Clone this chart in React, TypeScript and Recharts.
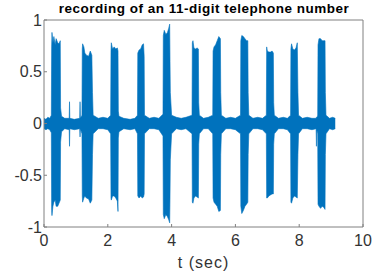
import React from "react";
import { AreaChart, Area, XAxis, YAxis } from "recharts";

// envelope of the recording (seconds, upper, lower)
const time = [
  0, 0.06, 0.12, 0.18, 0.23,
  0.24, 0.25, 0.28, 0.31, 0.35, 0.38, 0.43, 0.47, 0.51, 0.52, 0.55,
  0.65, 0.79, 0.8, 0.81, 0.95, 1.12, 1.13, 1.14, 1.19,
  1.2, 1.21, 1.25, 1.28, 1.33, 1.4, 1.45, 1.5, 1.52, 1.54,
  1.7, 1.85, 2.0, 2.09,
  2.1, 2.11, 2.15, 2.2, 2.25, 2.3, 2.32, 2.33, 2.35,
  2.5, 2.7, 2.85, 2.93,
  2.94, 2.98, 3.03, 3.08, 3.12, 3.14, 3.15,
  3.3, 3.45, 3.6, 3.73,
  3.74, 3.77, 3.82, 3.87, 3.91, 3.94, 3.95, 3.96, 4.0,
  4.15, 4.3, 4.45, 4.64,
  4.65, 4.67, 4.7, 4.75, 4.8, 4.84, 4.85, 4.87,
  5.0, 5.15, 5.29,
  5.3, 5.33, 5.38, 5.43, 5.48, 5.53, 5.54, 5.56,
  5.7, 5.85, 6.0, 6.16,
  6.17, 6.2, 6.25, 6.3, 6.35, 6.39, 6.4, 6.42,
  6.55, 6.7, 6.85, 6.97,
  6.98, 7.0, 7.05, 7.1, 7.15, 7.19, 7.2, 7.22,
  7.35, 7.5, 7.63, 7.73,
  7.74, 7.76, 7.8, 7.85, 7.9, 7.94, 7.96, 7.98,
  8.1, 8.25, 8.4, 8.53, 8.54, 8.55, 8.58,
  8.59, 8.62, 8.67, 8.72, 8.77, 8.81, 8.82, 8.84,
  8.95, 9.05, 9.13,
];

const upper = [
  0.05, 0.04, 0.06, 0.05, 0.08,
  0.74, 0.88, 0.78, 0.84, 0.76, 0.82, 0.78, 0.77, 0.8, 0.15, 0.07,
  0.05, 0.05, 0.21, 0.05, 0.04, 0.05, 0.21, 0.05, 0.08,
  0.72, 0.77, 0.74, 0.68, 0.66, 0.65, 0.7, 0.66, 0.3, 0.08,
  0.05, 0.06, 0.05, 0.08,
  0.7, 0.78, 0.72, 0.74, 0.72, 0.73, 0.7, 0.12, 0.07,
  0.05, 0.04, 0.05, 0.08,
  0.68, 0.71, 0.72, 0.76, 0.77, 0.65, 0.08,
  0.05, 0.06, 0.05, 0.09,
  0.85, 0.9, 0.86, 0.88, 0.92, 0.96, 0.6, 0.3, 0.08,
  0.06, 0.05, 0.06, 0.08,
  0.78, 0.8, 0.73, 0.72, 0.73, 0.72, 0.2, 0.08,
  0.05, 0.06, 0.08,
  0.7, 0.74, 0.76, 0.8, 0.84, 0.82, 0.3, 0.08,
  0.05, 0.06, 0.05, 0.08,
  0.8, 0.85, 0.84, 0.82, 0.8, 0.8, 0.3, 0.08,
  0.05, 0.06, 0.05, 0.08,
  0.74, 0.7, 0.69, 0.69, 0.7, 0.68, 0.2, 0.08,
  0.05, 0.06, 0.05, 0.08,
  0.72, 0.77, 0.72, 0.71, 0.73, 0.78, 0.3, 0.08,
  0.05, 0.06, 0.05, 0.05, 0.06, 0.05, 0.08,
  0.76, 0.82, 0.82, 0.8, 0.8, 0.8, 0.3, 0.08,
  0.05, 0.06, 0.05,
];

const lower = [
  -0.05, -0.06, -0.05, -0.06, -0.09,
  -0.84, -0.89, -0.8, -0.76, -0.74, -0.8, -0.8, -0.77, -0.74, -0.18, -0.08,
  -0.05, -0.06, -0.22, -0.05, -0.06, -0.05, -0.13, -0.05, -0.1,
  -0.7, -0.76, -0.72, -0.7, -0.72, -0.73, -0.77, -0.74, -0.3, -0.1,
  -0.05, -0.05, -0.06, -0.1,
  -0.72, -0.74, -0.7, -0.7, -0.72, -0.75, -0.85, -0.14, -0.08,
  -0.05, -0.06, -0.05, -0.1,
  -0.7, -0.72, -0.7, -0.72, -0.71, -0.68, -0.1,
  -0.05, -0.05, -0.06, -0.12,
  -0.88, -0.92, -0.88, -0.9, -0.93, -0.96, -0.7, -0.35, -0.1,
  -0.05, -0.06, -0.05, -0.1,
  -0.76, -0.77, -0.72, -0.7, -0.71, -0.72, -0.2, -0.1,
  -0.05, -0.05, -0.1,
  -0.72, -0.76, -0.78, -0.8, -0.85, -0.84, -0.3, -0.1,
  -0.05, -0.05, -0.06, -0.1,
  -0.8, -0.87, -0.84, -0.8, -0.78, -0.76, -0.3, -0.1,
  -0.05, -0.05, -0.06, -0.1,
  -0.72, -0.72, -0.7, -0.69, -0.68, -0.68, -0.2, -0.1,
  -0.05, -0.05, -0.06, -0.1,
  -0.76, -0.77, -0.72, -0.7, -0.71, -0.72, -0.3, -0.1,
  -0.05, -0.05, -0.06, -0.05, -0.22, -0.06, -0.1,
  -0.78, -0.8, -0.82, -0.8, -0.81, -0.83, -0.3, -0.1,
  -0.05, -0.06, -0.05,
];

const xTicks = [0, 2, 4, 6, 8, 10];
const yTicks = [-1, -0.5, 0, 0.5, 1];

const data = time.map((t, i) => ({ t, range: [lower[i], upper[i]] }));

const FONT = "'Liberation Sans', Arial, Helvetica, sans-serif";
const AXIS = "#808080";
const tickStyle = { fill: "#333333", fontSize: 16, fontFamily: FONT };

export default function App() {
  return (
    <div style={{ position: "absolute", left: 0, top: 0, width: 384, height: 271, background: "#fff" }}>
      <div
        style={{
          position: "absolute",
          left: 44,
          width: 320,
          top: 1,
          textAlign: "center",
          fontFamily: FONT,
          fontWeight: "bold",
          fontSize: 13.5,
          letterSpacing: 0.5,
          lineHeight: "15px",
          color: "#000",
          whiteSpace: "nowrap",
        }}
      >
        recording of an 11-digit telephone number
      </div>
      <AreaChart
        width={384}
        height={271}
        data={data}
        margin={{ top: 19, right: 20, bottom: 0, left: 0 }}
      >
        <XAxis
          dataKey="t"
          type="number"
          domain={[0, 10]}
          ticks={xTicks}
          height={44}
          stroke={AXIS}
          tickSize={-3}
          tickMargin={11}
          tick={tickStyle}
          interval={0}
          label={{
            value: "t (sec)",
            position: "insideBottom",
            offset: 3,
            style: { fill: "#333333", fontSize: 16, fontFamily: FONT, letterSpacing: 1 },
          }}
        />
        <XAxis
          xAxisId="top"
          orientation="top"
          dataKey="t"
          type="number"
          domain={[0, 10]}
          ticks={xTicks}
          height={1}
          stroke={AXIS}
          tickSize={-3}
          tick={false}
        />
        <YAxis
          type="number"
          domain={[-1, 1]}
          ticks={yTicks}
          width={44}
          stroke={AXIS}
          tickSize={-3}
          tickMargin={5}
          tick={tickStyle}
          interval={0}
        />
        <YAxis
          yAxisId="right"
          orientation="right"
          type="number"
          domain={[-1, 1]}
          ticks={yTicks}
          width={1}
          stroke={AXIS}
          tickSize={-3}
          tick={false}
        />
        <Area
          dataKey="range"
          type="linear"
          stroke="#0072BD"
          strokeWidth={0.6}
          fill="#0072BD"
          fillOpacity={1}
          isAnimationActive={false}
          dot={false}
          activeDot={false}
        />
      </AreaChart>
    </div>
  );
}
